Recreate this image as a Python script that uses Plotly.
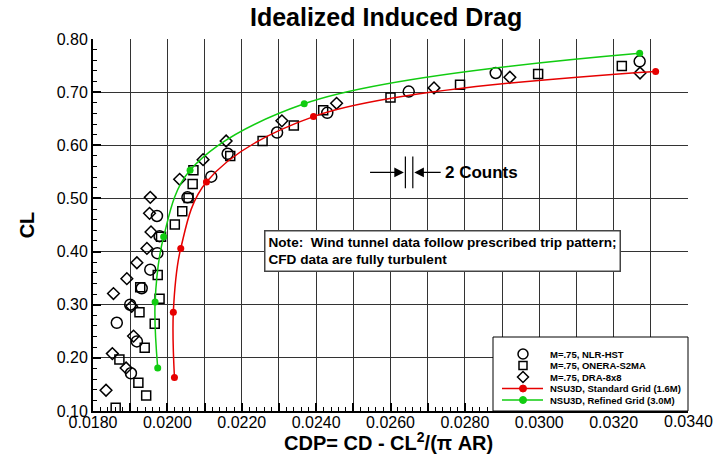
import plotly.graph_objects as go

# M=.75, NLR-HST (open circles)
nlr_cdp = [0.01902, 0.01918, 0.01864, 0.01900, 0.01931, 0.01954, 0.01973, 0.01979, 0.01972,
           0.02054, 0.02118, 0.02162, 0.02295, 0.02430, 0.02649, 0.02883, 0.03270]
nlr_cl = [0.171, 0.231, 0.266, 0.300, 0.331, 0.366, 0.397, 0.429, 0.467,
          0.502, 0.541, 0.584, 0.624, 0.661, 0.701, 0.736, 0.758]

# M=.75, ONERA-S2MA (open squares)
onera_cdp = [0.01861, 0.01943, 0.01922, 0.01871, 0.01939, 0.01966, 0.01925, 0.01979, 0.01927,
             0.01974, 0.01983, 0.02020, 0.02040, 0.02057, 0.02068, 0.02070, 0.02169, 0.02256,
             0.02340, 0.02419, 0.02600, 0.02787, 0.02997, 0.03222]
onera_cl = [0.106, 0.129, 0.153, 0.197, 0.219, 0.264, 0.286, 0.311, 0.333,
            0.356, 0.428, 0.451, 0.476, 0.501, 0.527, 0.553, 0.580, 0.608,
            0.637, 0.666, 0.690, 0.714, 0.734, 0.749]

# M=.75, DRA-8x8 (open diamonds)
dra_cdp = [0.01835, 0.01889, 0.01852, 0.01909, 0.01904, 0.01855, 0.01891, 0.01918, 0.01945,
           0.01956, 0.01952, 0.01954, 0.02033, 0.02096, 0.02158, 0.02308, 0.02455, 0.02717,
           0.02921, 0.03271]
dra_cl = [0.139, 0.181, 0.208, 0.241, 0.297, 0.321, 0.349, 0.379, 0.406,
          0.437, 0.472, 0.502, 0.536, 0.573, 0.608, 0.646, 0.679, 0.708,
          0.728, 0.736]

# NSU3D runs
std_cdp = [0.02019, 0.02016, 0.02036, 0.02105, 0.02393, 0.03313]
std_cl = [0.163, 0.286, 0.406, 0.531, 0.654, 0.739]
ref_cdp = [0.01974, 0.01967, 0.01990, 0.02061, 0.02368, 0.03270]
ref_cl = [0.181, 0.305, 0.428, 0.553, 0.678, 0.773]

# gridlines every 0.001, labels every 0.002 (no gridline drawn on the right edge)
x_tickvals = [0.018 + 0.001 * i for i in range(16)]
x_ticktext = ["0.0180", "", "0.0200", "", "0.0220", "", "0.0240", "", "0.0260", "",
              "0.0280", "", "0.0300", "", "0.0320", ""]
x_last_tick, x_last_label = 0.034, "0.0340"

legend_names = ["M=.75, NLR-HST", "M=.75, ONERA-S2MA", "M=.75, DRA-8x8",
                "NSU3D, Standard Grid (1.6M)", "NSU3D, Refined Grid (3.0M)"]

FONT = "Liberation Sans, Arial, sans-serif"
RED = "#e60000"
GREEN = "#11cc11"

# plot area in pixels (used to place the hand-drawn legend)
L, R, T, B = 93, 688, 39, 411


def px_x(p):
    return (p - L) / (R - L)


def px_y(p):
    return (B - p) / (B - T)


fig = go.Figure()

open_marker = dict(color="rgba(0,0,0,0)", line=dict(color="black", width=1.5))
fig.add_trace(go.Scatter(x=nlr_cdp, y=nlr_cl, mode="markers", name=legend_names[0],
                         marker=dict(symbol="circle", size=11, **open_marker)))
fig.add_trace(go.Scatter(x=onera_cdp, y=onera_cl, mode="markers", name=legend_names[1],
                         marker=dict(symbol="square", size=9, **open_marker)))
fig.add_trace(go.Scatter(x=dra_cdp, y=dra_cl, mode="markers", name=legend_names[2],
                         marker=dict(symbol="diamond", size=9, **open_marker)))
fig.add_trace(go.Scatter(x=std_cdp, y=std_cl, mode="lines+markers", name=legend_names[3],
                         line=dict(color=RED, width=1.5, shape="spline"),
                         marker=dict(color=RED, size=7)))
fig.add_trace(go.Scatter(x=ref_cdp, y=ref_cl, mode="lines+markers", name=legend_names[4],
                         line=dict(color=GREEN, width=1.5, shape="spline"),
                         marker=dict(color=GREEN, size=7)))

# "2 Counts" marker: two bars 0.0002 apart with arrows pointing at them
bar_left, bar_right = 0.0264, 0.0266
bar_lo, bar_hi = 0.519, 0.579
arrow_y = 0.549
for xb in (bar_left, bar_right):
    fig.add_shape(type="line", x0=xb, x1=xb, y0=bar_lo, y1=bar_hi,
                  line=dict(color="black", width=1.2))
fig.add_annotation(x=bar_left - 0.00004, y=arrow_y, ax=0.02541, ay=arrow_y,
                   axref="x", ayref="y", text="", showarrow=True,
                   arrowhead=2, arrowsize=1.6, arrowwidth=1.2, arrowcolor="black")
fig.add_annotation(x=bar_right + 0.00004, y=arrow_y, ax=0.02739, ay=arrow_y,
                   axref="x", ayref="y", text="", showarrow=True,
                   arrowhead=2, arrowsize=1.6, arrowwidth=1.2, arrowcolor="black")
fig.add_annotation(x=0.02742, y=arrow_y, text="2 Counts", showarrow=False,
                   xanchor="left", yanchor="middle",
                   font=dict(family=FONT, size=17, color="black", weight="bold"))

# note box
fig.add_annotation(xref="paper", yref="paper", x=px_x(264), y=px_y(230),
                   xanchor="left", yanchor="top", align="left", showarrow=False,
                   text="Note:  Wind tunnel data follow prescribed trip pattern;<br>"
                        "CFD data are fully turbulent",
                   font=dict(family=FONT, size=13.6, color="black", weight="bold"),
                   bgcolor="white", bordercolor="#444", borderwidth=1.5, borderpad=3)

# compact legend box drawn by hand (plotly's own rows are too tall)
fig.add_shape(type="rect", xref="paper", yref="paper", layer="above",
              x0=px_x(493), x1=1.0, y0=0.0, y1=px_y(337),
              fillcolor="white", line=dict(color="black", width=1))
row_y = [354, 365.5, 377, 388.5, 400]
sym_x = px_x(523)
for i, name in enumerate(legend_names):
    yy = px_y(row_y[i])
    common = dict(xref="paper", yref="paper", layer="above",
                  xsizemode="pixel", ysizemode="pixel", xanchor=sym_x, yanchor=yy)
    if i == 0:
        fig.add_shape(type="circle", x0=-5, x1=5, y0=-5, y1=5,
                      line=dict(color="black", width=1.5), **common)
    elif i == 1:
        fig.add_shape(type="rect", x0=-4, x1=4, y0=-4, y1=4,
                      line=dict(color="black", width=1.5), **common)
    elif i == 2:
        fig.add_shape(type="path", path="M 0 5.5 L 5.5 0 L 0 -5.5 L -5.5 0 Z",
                      line=dict(color="black", width=1.5), **common)
    else:
        col = RED if i == 3 else GREEN
        fig.add_shape(type="line", xref="paper", yref="paper", layer="above",
                      x0=px_x(502), x1=px_x(543), y0=yy, y1=yy,
                      line=dict(color=col, width=1.5))
        fig.add_shape(type="circle", x0=-3.5, x1=3.5, y0=-3.5, y1=3.5,
                      fillcolor=col, line=dict(color=col, width=1), **common)
    fig.add_annotation(xref="paper", yref="paper", x=px_x(548), y=yy,
                       xanchor="left", yanchor="middle", showarrow=False, text=name,
                       font=dict(family=FONT, size=9.5, color="black", weight="bold"))

# last x tick label (its gridline is not drawn in the original)
fig.add_annotation(x=x_last_tick, y=0, yref="paper", yanchor="top", yshift=0,
                   showarrow=False, text=x_last_label,
                   font=dict(family=FONT, size=16, color="black"))

# x axis title
fig.add_annotation(xref="paper", yref="paper", x=px_x(388), y=0, yanchor="top", yshift=-16,
                   showarrow=False, text="<b>CDP= CD - CL<sup>2</sup>/(π AR)</b>",
                   font=dict(family=FONT, size=20, color="black"))

fig.update_layout(
    width=719, height=456,
    paper_bgcolor="white", plot_bgcolor="white",
    margin=dict(l=L, r=719 - R, t=T, b=456 - B),
    font=dict(family=FONT, color="black"),
    title=dict(text="Idealized Induced Drag", x=0.537, xanchor="center", y=0.962, yanchor="middle",
               font=dict(family=FONT, size=25, color="black", weight="bold")),
    showlegend=False,
)

fig.update_xaxes(
    range=[0.018, 0.034], tickmode="array", tickvals=x_tickvals, ticktext=x_ticktext,
    showgrid=True, gridcolor="#333", gridwidth=1,
    showline=True, linecolor="black", linewidth=2,
    ticks="inside", ticklen=8, tickwidth=1.5, tickcolor="black",
    minor=dict(dtick=0.0002, ticks="inside", ticklen=4, tickwidth=1.2, tickcolor="black", showgrid=False),
    tickfont=dict(family=FONT, size=16, color="black"),
    ticklabelstandoff=-4,
    zeroline=False,
)
fig.update_yaxes(
    range=[0.10, 0.80], dtick=0.1, tick0=0, tickformat=".2f",
    showgrid=True, gridcolor="#333", gridwidth=1,
    showline=True, linecolor="black", linewidth=2,
    ticks="inside", ticklen=8, tickwidth=1.5, tickcolor="black",
    minor=dict(dtick=0.02, ticks="inside", ticklen=4, tickwidth=1.2, tickcolor="black", showgrid=False),
    tickfont=dict(family=FONT, size=16, color="black"),
    zeroline=False,
    title=dict(text="<b>CL</b>", standoff=17, font=dict(family=FONT, size=20, color="black")),
)

# the page's default 8px body margin would shift the whole chart
fig.write_html("out.html", config={"displayModeBar": False},
               post_script="document.body.style.margin='0';")
